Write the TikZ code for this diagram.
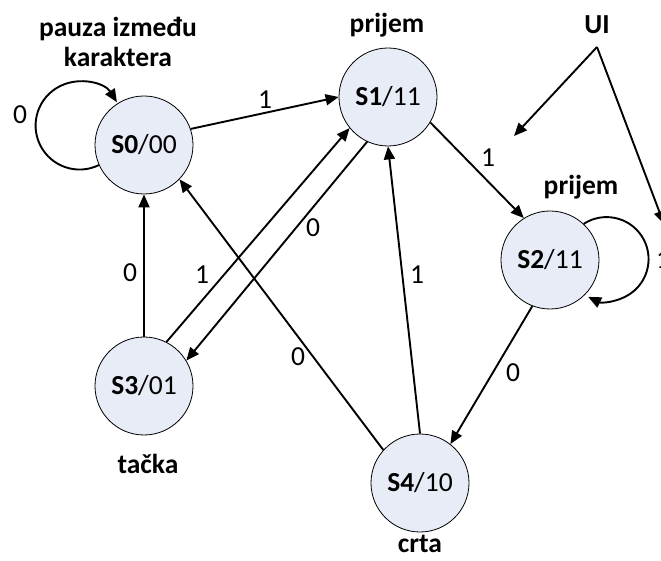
\documentclass[tikz,border=0pt]{standalone}
\usepackage{fontspec}
\setmainfont{Carlito}
\usetikzlibrary{arrows.meta}
\definecolor{statefill}{RGB}{231,236,246}
\begin{document}
\begin{tikzpicture}[x=1pt,y=1pt,
  every node/.style={font=\fontsize{27.5}{29.5}\selectfont, inner sep=0pt},
  state/.style={circle, draw, line width=0.8pt, fill=statefill, minimum size=98pt},
  edge/.style={line width=1.9pt, -{Triangle[length=13pt,width=11pt]}},
  title/.style={font=\fontsize{27.5}{29.5}\selectfont\bfseries, align=center},
  lbl/.style={},
]
\useasboundingbox (0,0) rectangle (661,560);

% states
\node[state] (S0) at (144,415) {\textbf{S0}/00};
\node[state] (S1) at (388,463) {\textbf{S1}/11};
\node[state] (S2) at (550,300) {\textbf{S2}/11};
\node[state] (S3) at (144,174) {\textbf{S3}/01};
\node[state] (S4) at (420,77)  {\textbf{S4}/10};

% state captions
\node[title] (t0) at (118,518) {pauza između\\karaktera};
\node[title] (t1) at (387,535) {prijem};
\node[title] (t2) at (581,373) {prijem};
\node[title] (t3) at (148,96)  {tačka};
\node[title] (t4) at (420,16)  {crta};
\node[title] (ui) at (597,535) {UI};
\coordinate (uiTop) at (597,513);
\coordinate (uiL) at (514,424);
\coordinate (uiR) at (664,336);

% transitions
\draw[edge] (S0.204) arc[start angle=-64, end angle=-328, radius=44];
\draw[edge] (S0.19) -- (S1.180);
\draw[edge] (S3.90) -- (S0.270);
\draw[edge] (S3.63) -- (S1.219);
\draw[edge] (S1.245) -- (S3.31);
\draw[edge] (S4.138) -- (S0.316);
\draw[edge] (S4.90) -- (S1.270);
\draw[edge] (S2.249) -- (S4.52);
\draw[edge] (S1.329) -- (S2.122);
\draw[edge] (S2.47) arc[start angle=123, end angle=-116, radius=42];
\draw[edge] (uiTop) -- (uiL);
\draw[edge] (uiTop) -- (uiR);

% transition labels
\node[lbl] (l00) at (20,445)  {0};
\node[lbl] (l01) at (265,460) {1};
\node[lbl] (l30) at (130,287) {0};
\node[lbl] (l31) at (202,285) {1};
\node[lbl] (l13) at (313,332) {0};
\node[lbl] (l40) at (298,203) {0};
\node[lbl] (l41) at (417,285) {1};
\node[lbl] (l24) at (513,187) {0};
\node[lbl] (l12) at (488,402) {1};
\node[lbl] (l22) at (663,300) {1};
\end{tikzpicture}
\end{document}
